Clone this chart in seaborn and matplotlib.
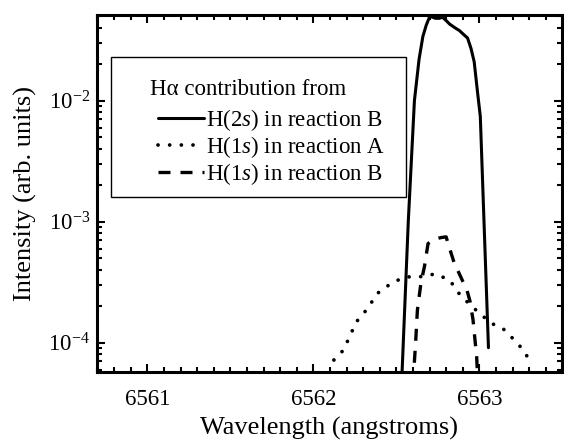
import numpy as np
import pandas as pd
import matplotlib
matplotlib.use("Agg")
import matplotlib.pyplot as plt
import seaborn as sns
from matplotlib.ticker import MultipleLocator, NullFormatter, LogLocator
from matplotlib.patches import Rectangle

# ---- data ----
wl_2sB = [6562.530, 6562.572, 6562.609, 6562.637, 6562.660, 6562.680, 6562.702,
          6562.735, 6562.760, 6562.778, 6562.800, 6562.821, 6562.854, 6562.880,
          6562.908, 6562.929, 6562.950, 6562.969, 6562.990, 6563.006, 6563.030,
          6563.055]
int_2sB = [4.0e-5, 1.0e-3, 1.0e-2, 2.2e-2, 3.4e-2, 4.2e-2, 5.0e-2,
           4.8e-2, 4.8e-2, 4.9e-2, 4.6e-2, 4.3e-2, 4.0e-2, 3.8e-2,
           3.5e-2, 3.3e-2, 2.7e-2, 2.1e-2, 1.15e-2, 7.4e-3, 8.5e-4,
           9.1e-5]

wl_1sA = [6562.124, 6562.182, 6562.258, 6562.319, 6562.388, 6562.470, 6562.551,
          6562.637, 6562.735, 6562.821, 6562.886, 6562.969, 6563.070, 6563.140,
          6563.200, 6563.266, 6563.316]
int_1sA = [7.2e-5, 8.7e-5, 1.48e-4, 1.86e-4, 2.57e-4, 3.1e-4, 3.5e-4,
           3.5e-4, 3.7e-4, 3.3e-4, 2.46e-4, 1.92e-4, 1.45e-4, 1.32e-4,
           1.09e-4, 8.7e-5, 6.6e-5]

wl_1sB = [6562.600, 6562.616, 6562.627, 6562.648, 6562.670, 6562.691, 6562.735,
          6562.770, 6562.800, 6562.823, 6562.848, 6562.884, 6562.926, 6562.944,
          6562.962, 6562.984, 6562.992]
int_1sB = [4.5e-5, 9.9e-5, 1.86e-4, 3.1e-4, 4.3e-4, 6.6e-4, 7.2e-4,
           7.4e-4, 7.5e-4, 5.9e-4, 4.6e-4, 3.6e-4, 2.7e-4, 2.2e-4,
           1.55e-4, 7.6e-5, 4.5e-5]

labels = ["H(2$\\mathit{s}$) in reaction B", "H(1$\\mathit{s}$) in reaction A",
          "H(1$\\mathit{s}$) in reaction B"]
legend_title = "H\u03b1 contribution from"
xticks = [6561, 6562, 6563]

sns.set_theme(style="ticks")
plt.rcParams.update({
    "font.family": ["Liberation Serif", "DejaVu Serif"],
    "mathtext.fontset": "custom",
    "mathtext.rm": "Liberation Serif",
    "mathtext.it": "Liberation Serif:italic",
    "mathtext.default": "regular",
    "axes.edgecolor": "black",
    "axes.linewidth": 2.2,
    "xtick.color": "black",
    "ytick.color": "black",
    "text.color": "black",
    "axes.labelcolor": "black",
})

fig = plt.figure(figsize=(5.64, 4.42), dpi=100)
ax = fig.add_axes([97/564, 70/442, 464.5/564, 357/442])

df2 = pd.DataFrame({"wl": wl_2sB, "I": int_2sB})
dfA = pd.DataFrame({"wl": wl_1sA, "I": int_1sA})
dfB = pd.DataFrame({"wl": wl_1sB, "I": int_1sB})

sns.lineplot(data=df2, x="wl", y="I", ax=ax, color="black", lw=2.2,
             sort=False, estimator=None, label=labels[0])
sns.lineplot(data=dfA, x="wl", y="I", ax=ax, color="black", lw=2.7,
             linestyle=(0, (0.01, 3.1)), dash_capstyle="round",
             sort=False, estimator=None, label=labels[1])
sns.lineplot(data=dfB, x="wl", y="I", ax=ax, color="black", lw=2.4,
             linestyle=(0, (3.6, 3.0)), dash_capstyle="butt",
             sort=False, estimator=None, label=labels[2])

ax.set_yscale("log")
ax.set_xlim(6560.697, 6563.495)
ax.set_ylim(5.73e-5, 0.0511)
ax.set_xticks(xticks)
ax.set_xticklabels([str(t) for t in xticks])
ax.xaxis.set_minor_locator(MultipleLocator(0.1))
ax.yaxis.set_major_locator(LogLocator(base=10, numticks=10))
ax.yaxis.set_minor_locator(LogLocator(base=10, subs=np.arange(2, 10), numticks=20))
ax.yaxis.set_minor_formatter(NullFormatter())

ax.tick_params(which="both", direction="in", top=True, right=True, width=1.5,
               labelsize=16.5)
ax.tick_params(which="major", length=6)
ax.tick_params(which="minor", length=3.8)
ax.tick_params(axis="x", which="major", pad=12)
ax.tick_params(axis="y", which="major", pad=5)

ax.set_xlabel("Wavelength (angstroms)", fontsize=19, labelpad=5)
ax.set_ylabel("Intensity (arb. units)", fontsize=19, labelpad=8)

handles, _ = ax.get_legend_handles_labels()
leg = ax.legend(handles, labels, loc="upper left",
                bbox_to_anchor=(0.131, 0.742), frameon=False, borderpad=0,
                fontsize=16.5, handlelength=2.0,
                handletextpad=0.1, labelspacing=0.04, borderaxespad=0)
ax.text(0.114, 0.792, legend_title, transform=ax.transAxes, fontsize=16.5,
        ha="left", va="center")

ax.add_patch(Rectangle((0.030, 0.490), 0.635, 0.392, transform=ax.transAxes,
                       fill=False, edgecolor="black", lw=1.0, zorder=1))

fig.savefig("out.png", dpi=100)
